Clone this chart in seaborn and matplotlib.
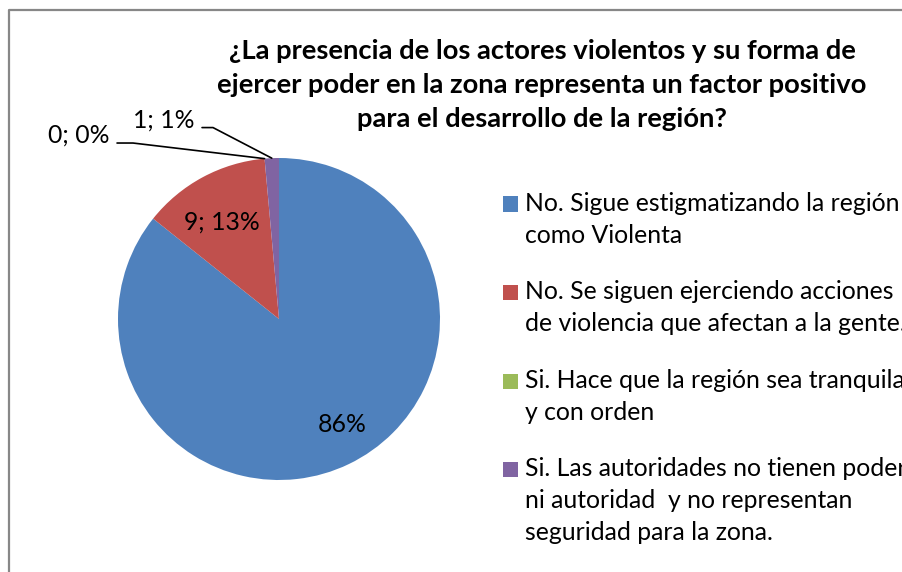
import numpy as np
import seaborn as sns
import matplotlib.pyplot as plt
from matplotlib.patches import Rectangle
from matplotlib.lines import Line2D

# Data
categories = [
    'No. Sigue estigmatizando la región\ncomo Violenta',
    'No. Se siguen ejerciendo acciones\nde violencia que afectan a la gente.',
    'Si. Hace que la región sea tranquila\ny con orden',
    'Si. Las autoridades no tienen poder\nni autoridad  y no representan\nseguridad para la zona.',
]
counts = [60, 9, 0, 1]
colors = ['#4F81BD', '#C0504D', '#9BBB59', '#8064A2']
title = ('¿La presencia de los actores violentos y su forma de\n'
         'ejercer poder en la zona representa un factor positivo\n'
         'para el desarrollo de la región?')

sns.set_theme(style='white')
plt.rcParams['font.family'] = ['Lato', 'DejaVu Sans']

W, H = 902, 572
fs = 17.8
fig = plt.figure(figsize=(W / 100, H / 100), dpi=100)
fig.patch.set_facecolor('white')

# chart frame: only left and top edges fall inside the picture
fig.add_artist(Line2D([9 / W, 9 / W, 1.0], [0.0, 1 - 10 / H, 1 - 10 / H],
                      transform=fig.transFigure, color='#878787', linewidth=1.6))

# pie axes: centre (279, 319) px, radius 161 px
r_px = 161
ax = fig.add_axes([(279 - r_px) / W, (H - 319 - r_px) / H, 2 * r_px / W, 2 * r_px / H])
wedges, _ = ax.pie(counts, colors=colors, startangle=90, counterclock=False,
                   radius=1, wedgeprops=dict(linewidth=0))
ax.set_xlim(-1, 1)
ax.set_ylim(-1, 1)
ax.set_aspect('equal')
ax.axis('off')

total = sum(counts)
pcts = [round(100 * c / total) for c in counts]

# inside labels (positions in pie units)
ax.text(0.391, -0.658, f'{pcts[0]}%', ha='center', va='center', fontsize=fs, color='black')
ax.text(-0.354, 0.602, f'{counts[1]}; {pcts[1]}%', ha='center', va='center',
        fontsize=fs, color='black')

# outside labels with leader lines (text right edge, stub start, stub end, stub y)
outside = {2: ((-1.050, 1.140), -1.006, -0.907, 1.093),
           3: ((-0.522, 1.233), -0.478, -0.410, 1.189)}
for i, (txt_pos, s0, s1, sy) in outside.items():
    a = np.deg2rad((wedges[i].theta1 + wedges[i].theta2) / 2)
    ex, ey = np.cos(a), np.sin(a)
    ax.text(*txt_pos, f'{counts[i]}; {pcts[i]}%', ha='right', va='center',
            fontsize=fs, color='black', clip_on=False)
    ax.plot([s0, s1, ex], [sy, sy, ey], color='black', linewidth=1.2, clip_on=False)

fig.text(542 / W, 1 - 85 / H, title, ha='center', va='center', fontsize=19.7,
         fontweight='bold', linespacing=1.52, color='black')

# legend: square key aligned with first line of each label
first_line_y = [204, 292, 381, 469]
for lab, col, y in zip(categories, colors, first_line_y):
    fig.patches.append(Rectangle((503 / W, 1 - (y + 7.5) / H), 15 / W, 15 / H,
                                 transform=fig.transFigure, facecolor=col,
                                 edgecolor='none'))
    fig.text(525 / W, 1 - (y - 12) / H, lab, ha='left', va='top', fontsize=fs,
             linespacing=1.47, color='black')

fig.savefig('out.png', dpi=100, facecolor='white')
